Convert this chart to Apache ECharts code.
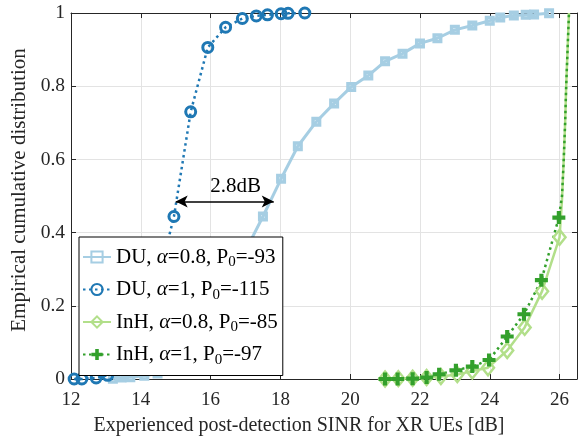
<!DOCTYPE html>
<html>
<head>
<meta charset="utf-8">
<script src="https://cdn.jsdelivr.net/npm/echarts@6/dist/echarts.min.js"></script>
<style>html,body{margin:0;padding:0;background:#fff}#c{width:582px;height:441px}</style>
</head>
<body>
<div id="c"></div>
<script>
// ---- data ----
var seriesNames = ['DU, α=0.8, P0=-93', 'DU, α=1, P0=-115', 'InH, α=0.8, P0=-85', 'InH, α=1, P0=-97'];

// DU, alpha=0.8 (markers)
var duA08X = [13.2, 13.45, 13.7, 14.1, 14.48, 15.0, 15.5, 16.0, 16.5, 17.0, 17.5, 18.02, 18.5, 19.03, 19.54, 20.03, 20.52, 21.0, 21.5, 22.0, 22.5, 23.0, 23.5, 24.0, 24.3, 24.69, 25.03, 25.27, 25.7];
var duA08Y = [0.001, 0.004, 0.005, 0.009, 0.015, 0.04, 0.08, 0.14, 0.23, 0.35, 0.444, 0.547, 0.636, 0.703, 0.753, 0.798, 0.829, 0.868, 0.889, 0.917, 0.931, 0.954, 0.966, 0.979, 0.988, 0.993, 0.995, 0.996, 0.999];

// DU, alpha=1 (markers)
var duA1X = [12.09, 12.31, 12.72, 13.05, 13.5, 14.0, 14.5, 14.95, 15.43, 15.92, 16.43, 16.91, 17.31, 17.63, 18.02, 18.22, 18.7];
var duA1Y = [0.0, 0.0, 0.003, 0.01, 0.04, 0.12, 0.27, 0.444, 0.730, 0.906, 0.961, 0.985, 0.992, 0.995, 0.998, 0.999, 1.0];

// InH, alpha=0.8 (markers, then unmarked points of the steep tail)
var inhA08X = [21.0, 21.38, 21.79, 22.19, 22.6, 23.07, 23.5, 23.95, 24.5, 25.0, 25.5, 26.0];
var inhA08Y = [0.0, 0.001, 0.002, 0.004, 0.007, 0.012, 0.022, 0.031, 0.078, 0.141, 0.240, 0.387];
var inhA08TailX = [26.07, 26.12, 26.16, 26.19, 26.23, 26.27];
var inhA08TailY = [0.49, 0.60, 0.70, 0.80, 0.90, 1.0];

// InH, alpha=1 (markers, then unmarked points of the steep tail)
var inhA1X = [21.0, 21.36, 21.79, 22.19, 22.55, 23.03, 23.5, 23.98, 24.5, 24.98, 25.48, 25.98];
var inhA1Y = [0.0, 0.0, 0.001, 0.004, 0.013, 0.024, 0.034, 0.052, 0.116, 0.177, 0.270, 0.441];
var inhA1TailX = [26.07, 26.12, 26.16, 26.19, 26.23, 26.27];
var inhA1TailY = [0.50, 0.60, 0.70, 0.80, 0.90, 1.0];

// annotation arrow and its text
var arrowStart = [15.0, 0.485];
var arrowEnd = [17.81, 0.485];
var arrowTextPos = [16.72, 0.525];
var arrowText = '2.8dB';

// axes
var xMin = 12, xMax = 26.5, xStep = 2;
var yMin = 0, yMax = 1, yStep = 0.2;
var xTitle = 'Experienced post-detection SINR for XR UEs [dB]';
var yTitle = 'Empirical cumulative distribution';

// ---- build ----
function pts(xs, ys, tx, ty) {
  var out = [];
  for (var i = 0; i < xs.length; i++) out.push([xs[i], ys[i]]);
  if (tx) for (var j = 0; j < tx.length; j++) out.push({value: [tx[j], ty[j]], symbol: 'none'});
  return out;
}

var FONT = 'Liberation Serif';
var TXT = '#262626';
var cLB = '#a6cee3', cDB = '#1f78b4', cLG = '#b2df8a', cDG = '#33a02c';
var plusPath = 'path://M3.4,0 H6.6 V3.4 H10 V6.6 H6.6 V10 H3.4 V6.6 H0 V3.4 H3.4 Z';

var chart = echarts.init(document.getElementById('c'), null, {renderer: 'canvas'});

var axisCommon = {
  axisLine: {show: true, onZero: false, lineStyle: {color: TXT, width: 1}},
  axisTick: {show: true, inside: true, length: 5, lineStyle: {color: TXT}},
};

chart.setOption({
  animation: false,
  backgroundColor: '#fff',
  grid: {left: 71, right: 5, top: 13, bottom: 58, containLabel: false},
  xAxis: [
    Object.assign({
      type: 'value', min: xMin, max: xMax, interval: xStep, position: 'bottom',
      name: xTitle, nameLocation: 'middle', nameGap: 37,
      nameTextStyle: {fontFamily: FONT, fontSize: 20, color: TXT, padding: [0, 50, 0, 0]},
      axisLabel: {fontFamily: FONT, fontSize: 19, color: TXT, margin: 12, showMaxLabel: false,
        formatter: function (v) { return (Math.abs(v % 2) < 1e-9) ? String(v) : ''; }},
      splitLine: {show: true, lineStyle: {color: '#e3e3e3', width: 1}}
    }, axisCommon),
    Object.assign({
      type: 'value', min: xMin, max: xMax, interval: xStep, position: 'top',
      axisLabel: {show: false}, splitLine: {show: false}
    }, axisCommon)
  ],
  yAxis: [
    Object.assign({
      type: 'value', min: yMin, max: yMax, interval: yStep, position: 'left',
      name: yTitle, nameLocation: 'middle', nameGap: 30,
      nameTextStyle: {fontFamily: FONT, fontSize: 21, color: TXT, padding: [0, 0, 0, 12]},
      axisLabel: {fontFamily: FONT, fontSize: 19.5, color: TXT, margin: 6,
        formatter: function (v) { return String(Math.round(v * 10) / 10); }},
      splitLine: {show: true, lineStyle: {color: '#e3e3e3', width: 1}}
    }, axisCommon),
    Object.assign({
      type: 'value', min: yMin, max: yMax, interval: yStep, position: 'right',
      axisLabel: {show: false}, splitLine: {show: false}
    }, axisCommon)
  ],
  legend: {
    orient: 'vertical', left: 79, top: 237,
    backgroundColor: '#fff', borderColor: '#000', borderWidth: 1, borderRadius: 0,
    padding: [7, 5, 8, 3], itemGap: 6.5, itemWidth: 28, itemHeight: 14, itemTextGap: 5,
    data: seriesNames,
    formatter: function (name) {
      return name.replace('α', '{i|α}').replace('P0', 'P{s|0}');
    },
    textStyle: {
      fontFamily: FONT, fontSize: 21, color: '#000', lineHeight: 26,
      rich: {
        i: {fontFamily: FONT, fontSize: 21, fontStyle: 'italic', color: '#000', lineHeight: 26},
        s: {fontFamily: FONT, fontSize: 15, color: '#000', lineHeight: 10, verticalAlign: 'bottom'}
      }
    }
  },
  series: [
    {
      name: seriesNames[0], type: 'line', data: pts(duA08X, duA08Y), clip: false,
      symbol: 'rect', symbolSize: 6.5,
      lineStyle: {color: cLB, width: 3},
      itemStyle: {color: 'rgba(255,255,255,0)', borderColor: cLB, borderWidth: 3.5},
      emphasis: {disabled: true}
    },
    {
      name: seriesNames[1], type: 'line', data: pts(duA1X, duA1Y), clip: false,
      symbol: 'circle', symbolSize: 10,
      lineStyle: {color: cDB, width: 2.5, type: [2.5, 3.5]},
      itemStyle: {color: 'rgba(255,255,255,0)', borderColor: cDB, borderWidth: 3},
      emphasis: {disabled: true},
      markLine: {
        silent: true, symbol: ['arrow', 'arrow'], symbolSize: [9, 12],
        lineStyle: {color: '#000', width: 1.5, type: 'solid'},
        label: {show: false},
        data: [[{coord: arrowStart}, {coord: arrowEnd}]]
      },
      markPoint: {
        silent: true, symbol: 'circle', symbolSize: 1,
        itemStyle: {color: 'rgba(0,0,0,0)'},
        label: {show: true, position: 'inside', formatter: arrowText, fontFamily: FONT, fontSize: 21, color: '#000'},
        data: [{coord: arrowTextPos}]
      }
    },
    {
      name: seriesNames[2], type: 'line', data: pts(inhA08X, inhA08Y, inhA08TailX, inhA08TailY), clip: false,
      symbol: 'diamond', symbolSize: [12, 15],
      lineStyle: {color: cLG, width: 2.5},
      itemStyle: {color: 'rgba(255,255,255,0)', borderColor: cLG, borderWidth: 2.5},
      emphasis: {disabled: true}
    },
    {
      name: seriesNames[3], type: 'line', data: pts(inhA1X, inhA1Y, inhA1TailX, inhA1TailY), clip: false,
      symbol: plusPath, symbolSize: 13,
      lineStyle: {color: cDG, width: 2.5, type: [2.5, 3.5]},
      itemStyle: {color: cDG, borderWidth: 0},
      emphasis: {disabled: true}
    }
  ]
});
</script>
</body>
</html>
